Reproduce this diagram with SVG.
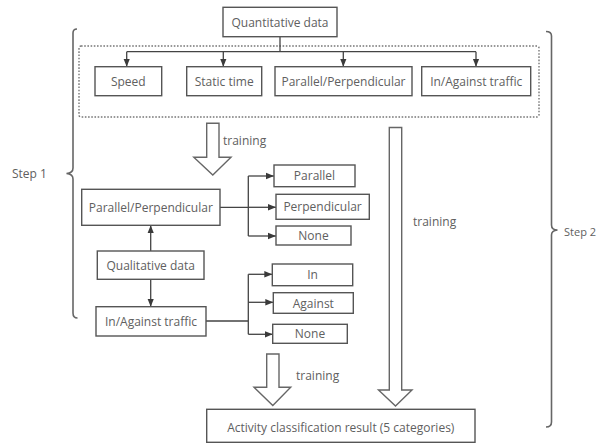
<svg xmlns="http://www.w3.org/2000/svg" width="597" height="444" viewBox="0 0 597 444">
  <defs>
    <marker id="tri" viewBox="0 0 8 8" refX="8" refY="4" markerWidth="8" markerHeight="8" markerUnits="userSpaceOnUse" orient="auto">
      <path d="M0,0.8 L8,4 L0,7.2 Z" fill="#3a3a3a"/>
    </marker>
  </defs>
  <style>
    .box { fill: #ffffff; stroke: #555555; stroke-width: 1.4; }
    .dots { fill: none; stroke: #777777; stroke-width: 1.4; stroke-dasharray: 1.6 1.6; }
    .line { fill: none; stroke: #444444; stroke-width: 1.3; }
    .arr { fill: none; stroke: #444444; stroke-width: 1.3; marker-end: url(#tri); }
    .block { fill: #ffffff; stroke: #666666; stroke-width: 1.4; stroke-linejoin: miter; }
    .brace { fill: none; stroke: #666666; stroke-width: 1.6; }
    text { font-family: "Open Sans", "Noto Sans", "DejaVu Sans", sans-serif; font-size: 12px; fill: #606060; }
    .c { text-anchor: middle; dominant-baseline: central; }
  </style>

  <rect width="597" height="444" fill="#ffffff"/>

  <!-- grouping frames and braces -->
  <rect class="dots" x="79" y="46" width="460" height="71" rx="2"/>
  <path class="brace" d="M77,29 Q73,29 73,33 V168 Q73,173 66.5,173.5 Q73,174 73,179 V313 Q73,318 77.5,318"/>
  <path class="brace" d="M546,31.5 Q551.5,31.5 551.5,36 V225 Q551.5,230 557.5,230 Q551.5,230.5 551.5,235 V422 Q551.5,427 546,427"/>
  <text x="12" y="173.5" dominant-baseline="central">Step 1</text>
  <text x="564" y="231" dominant-baseline="central" style="font-size:11px">Step 2</text>

  <!-- connectors -->
  <g id="connectors">
    <path class="line" d="M280,37 V51.7 M126.7,51.7 H476"/>
    <path class="arr" d="M126.7,51.7 V66.7"/>
    <path class="arr" d="M223.3,51.7 V66.7"/>
    <path class="arr" d="M343.3,51.7 V66.7"/>
    <path class="arr" d="M476,51.7 V66.7"/>

    <path class="line" d="M220,207.3 H248.3 M248.3,176 V236"/>
    <path class="arr" d="M248.3,176 H274"/>
    <path class="arr" d="M248.3,207.3 H276"/>
    <path class="arr" d="M248.3,236 H276"/>

    <path class="arr" d="M150.7,251 V225.3"/>
    <path class="arr" d="M150.7,279.3 V306.7"/>

    <path class="line" d="M206,321 H248.3 M248.3,274.3 V334.3"/>
    <path class="arr" d="M248.3,274.3 H272.3"/>
    <path class="arr" d="M248.3,302.3 H273.3"/>
    <path class="arr" d="M248.3,334.3 H272.7"/>

    <!-- hollow training arrows -->
    <polygon class="block" points="206.7,123.3 219,123.3 219,157.3 231,157.3 212.8,175 193.8,157.3 206.7,157.3"/>
    <text x="223" y="140" dominant-baseline="central">training</text>
    <polygon class="block" points="389.3,127.5 401.7,127.5 401.7,390 412,390 395.5,406 378.5,390 389.3,390"/>
    <text x="413" y="221" dominant-baseline="central">training</text>
    <polygon class="block" points="266.7,354 279,354 279,387.3 290.7,387.3 272.8,405.5 254,387.3 266.7,387.3"/>
    <text x="296" y="375" dominant-baseline="central">training</text>
  </g>

  <!-- nodes -->
  <g id="quantitative">
    <rect class="box" x="223" y="7.3" width="114" height="29.4"/>
    <text class="c" x="280" y="22">Quantitative data</text>
  </g>
  <g id="speed">
    <rect class="box" x="95" y="66.7" width="66.7" height="29"/>
    <text class="c" x="128.3" y="81.2">Speed</text>
  </g>
  <g id="static-time">
    <rect class="box" x="186.7" y="66.7" width="75" height="29"/>
    <text class="c" x="224.2" y="81.2">Static time</text>
  </g>
  <g id="parallel-perpendicular-feature">
    <rect class="box" x="275" y="66.7" width="137" height="29"/>
    <text class="c" x="343.5" y="81.2">Parallel/Perpendicular</text>
  </g>
  <g id="in-against-feature">
    <rect class="box" x="421.7" y="66.7" width="109" height="29"/>
    <text class="c" x="476.2" y="81.2">In/Against traffic</text>
  </g>

  <g id="parallel-perpendicular">
    <rect class="box" x="81.7" y="189.3" width="138.3" height="36"/>
    <text class="c" x="150.8" y="207.3">Parallel/Perpendicular</text>
  </g>
  <g id="parallel">
    <rect class="box" x="274" y="165" width="81" height="21.7"/>
    <text class="c" x="314.5" y="175.8">Parallel</text>
  </g>
  <g id="perpendicular">
    <rect class="box" x="276" y="194.3" width="93.3" height="25"/>
    <text class="c" x="322.6" y="206.8">Perpendicular</text>
  </g>
  <g id="none-1">
    <rect class="box" x="276" y="226" width="75" height="19"/>
    <text class="c" x="313.5" y="235.5">None</text>
  </g>

  <g id="qualitative">
    <rect class="box" x="97.3" y="251" width="106.7" height="28.3"/>
    <text class="c" x="150.7" y="265.2">Qualitative data</text>
  </g>
  <g id="in-against">
    <rect class="box" x="96" y="306.7" width="110" height="29.3"/>
    <text class="c" x="151" y="321.3">In/Against traffic</text>
  </g>
  <g id="in">
    <rect class="box" x="272.3" y="264" width="80.4" height="21.7"/>
    <text class="c" x="312.5" y="274.8">In</text>
  </g>
  <g id="against">
    <rect class="box" x="273.3" y="292.7" width="80" height="20.6"/>
    <text class="c" x="313.3" y="303">Against</text>
  </g>
  <g id="none-2">
    <rect class="box" x="272.7" y="324.3" width="74.6" height="19"/>
    <text class="c" x="310" y="333.8">None</text>
  </g>

  <g id="result">
    <rect class="box" x="206.7" y="409.3" width="268.3" height="33"/>
    <text class="c" x="340.8" y="427">Activity classification result (5 categories)</text>
  </g>
</svg>
